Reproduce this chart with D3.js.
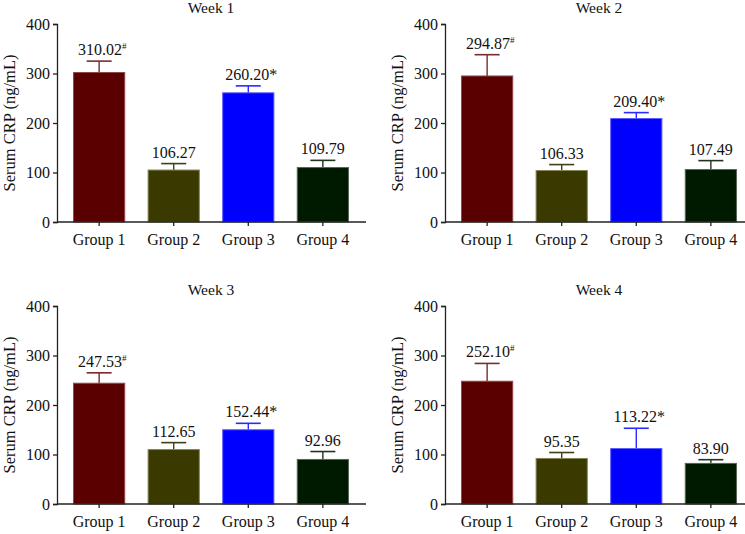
<!DOCTYPE html>
<html>
<head>
<meta charset="utf-8">
<script src="https://cdn.jsdelivr.net/npm/d3@7"></script>
<style>
  body { margin: 0; background: #fff; }
  svg { display: block; }
  text { font-family: "Liberation Serif", "DejaVu Serif", serif; fill: #111; }
</style>
</head>
<body>
<svg id="chart" width="745" height="534"></svg>
<script>
const weeks = ['Week 1', 'Week 2', 'Week 3', 'Week 4'];
const groups = ['Group 1', 'Group 2', 'Group 3', 'Group 4'];
const yTicks = [0, 100, 200, 300, 400];

// printed means
const labelWeek1 = [310.02, 106.27, 260.20, 109.79];
const labelWeek2 = [294.87, 106.33, 209.40, 107.49];
const labelWeek3 = [247.53, 112.65, 152.44, 92.96];
const labelWeek4 = [252.10, 95.35, 113.22, 83.90];

// bar heights as drawn in the figure
const barWeek1 = [302, 105, 261, 110];
const barWeek2 = [295, 104, 209, 106];
const barWeek3 = [244, 110, 150, 90];
const barWeek4 = [248, 92, 112, 82];

// upper error (SD)
const sdWeek1 = [23, 13, 14, 14.5];
const sdWeek2 = [43, 12, 12, 18];
const sdWeek3 = [21, 14, 13, 16];
const sdWeek4 = [36, 12, 41, 7.5];

const marks = ['#', '', '*', ''];

const fillColors = ['#5a0000', '#3a3a00', '#0000ff', '#001a00'];
const edgeColors = ['#8e4a4a', '#85855a', '#5c5cff', '#566656'];
const errColors = ['#7a2c2c', '#3f3f18', '#2a2aff', '#22331f'];

const labelsAll = [labelWeek1, labelWeek2, labelWeek3, labelWeek4];
const barsAll = [barWeek1, barWeek2, barWeek3, barWeek4];
const sdAll = [sdWeek1, sdWeek2, sdWeek3, sdWeek4];

const svg = d3.select('#chart');

// panel placement: axis origin x and top (400) y
const panelX = [57, 445, 57, 445];
const panelTop = [24, 24, 306, 306];
const plotH = 198;
const plotW = 309;

function drawPanel(i) {
  let x0 = panelX[i];
  let yTop = panelTop[i];
  let g = svg.append('g');

  let y = d3.scaleLinear().domain([0, 400]).range([yTop + plotH, yTop]);
  let x = d3.scaleBand().domain(groups)
    .range([x0, x0 + 308])
    .paddingInner(0.3)
    .paddingOuter(0.215);

  let bars = barsAll[i];
  let sds = sdAll[i];
  let labs = labelsAll[i];

  // error bars (upper only)
  groups.forEach(function (gr, k) {
    let cx = x(gr) + x.bandwidth() / 2;
    let top = y(bars[k] + sds[k]);
    g.append('line')
      .attr('x1', cx).attr('x2', cx)
      .attr('y1', y(bars[k])).attr('y2', top)
      .attr('stroke', errColors[k]).attr('stroke-width', 1.4);
    g.append('line')
      .attr('x1', cx - 12.5).attr('x2', cx + 12.5)
      .attr('y1', top).attr('y2', top)
      .attr('stroke', errColors[k]).attr('stroke-width', 1.6);
  });

  // bars
  g.selectAll('rect.bar').data(groups).enter().append('rect')
    .attr('class', 'bar')
    .attr('x', d => x(d) + 0.5)
    .attr('width', x.bandwidth() - 1)
    .attr('y', (d, k) => y(bars[k]))
    .attr('height', (d, k) => y(0) - y(bars[k]))
    .attr('fill', (d, k) => fillColors[k])
    .attr('stroke', (d, k) => edgeColors[k])
    .attr('stroke-width', 1);

  // value labels
  groups.forEach(function (gr, k) {
    let cx = x(gr) + x.bandwidth() / 2;
    let t = g.append('text')
      .attr('x', cx + (marks[k] ? 3 : 0))
      .attr('y', y(bars[k] + sds[k]) - 6)
      .attr('text-anchor', 'middle')
      .attr('font-size', 16);
    t.append('tspan').text(labs[k].toFixed(2));
    if (marks[k] === '#') {
      t.append('tspan').attr('font-size', 9).attr('dy', -6).text('#');
    } else if (marks[k] === '*') {
      t.append('tspan').text('*');
    }
  });

  // y axis
  let yAxis = d3.axisLeft(y).tickValues(yTicks).tickSize(4).tickPadding(3);
  let ya = g.append('g').attr('transform', `translate(${x0},0)`).call(yAxis);
  ya.selectAll('text').attr('font-size', 16).attr('fill', '#111');
  ya.selectAll('line, path').attr('stroke', '#222').attr('stroke-width', 1.3);

  // x axis
  let xAxis = d3.axisBottom(x).tickSize(4).tickSizeOuter(0).tickPadding(8);
  let xa = g.append('g').attr('transform', `translate(0,${yTop + plotH})`).call(xAxis);
  xa.select('.domain').attr('d', `M${x0},0H${x0 + plotW}`);
  xa.selectAll('text').attr('font-size', 16).attr('fill', '#111');
  xa.selectAll('line, path').attr('stroke', '#222').attr('stroke-width', 1.3);

  // title
  g.append('text')
    .attr('x', (x(groups[0]) + x(groups[3]) + x.bandwidth()) / 2)
    .attr('y', yTop - 11)
    .attr('text-anchor', 'middle')
    .attr('font-size', 15.5)
    .text(weeks[i]);

  // y label
  g.append('text')
    .attr('transform', `translate(${x0 - 42},${yTop + plotH / 2}) rotate(-90)`)
    .attr('text-anchor', 'middle')
    .attr('font-size', 16.5)
    .text('Serum CRP (ng/mL)');
}

for (let i = 0; i < weeks.length; i++) {
  drawPanel(i);
}
</script>
</body>
</html>
